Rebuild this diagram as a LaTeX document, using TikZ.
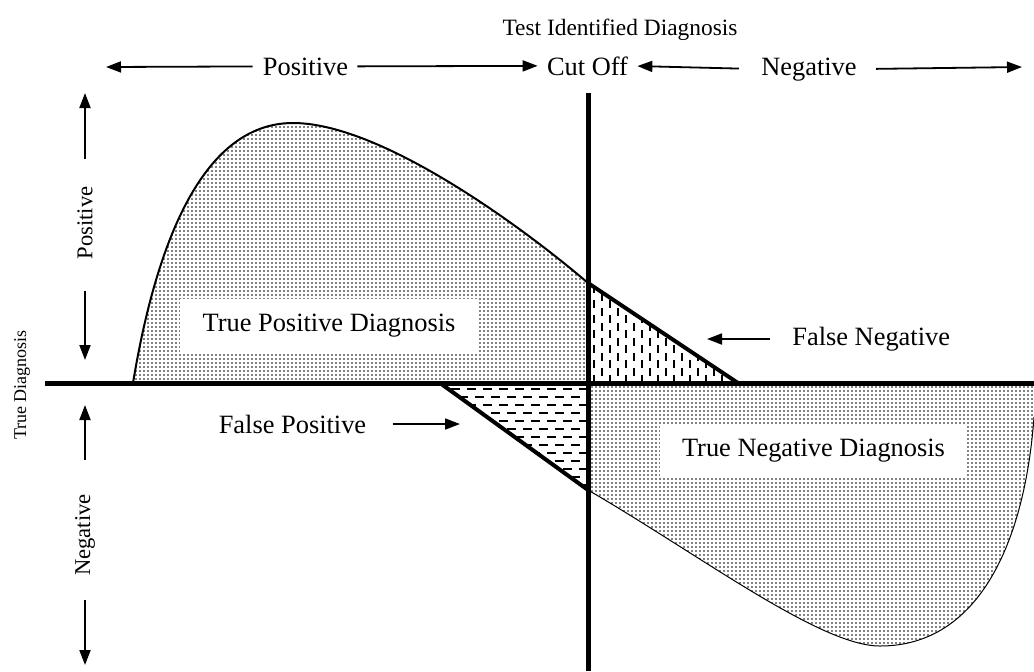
\documentclass[tikz,border=0pt]{standalone}
\usepackage{fontspec}
\setmainfont{Liberation Serif}
\usetikzlibrary{arrows.meta,patterns.meta}

\begin{document}
\begin{tikzpicture}[x=0.5pt, y=-0.5pt, line join=miter,
  every node/.style={font=\fontsize{13.2}{15}\selectfont, inner sep=0pt},
  arr/.style={-{Triangle[length=7.5pt,width=5.5pt]}, line width=0.9pt},
  sidelabel/.style={font=\fontsize{11.3}{13}\selectfont, rotate=90},
  heavy/.style={line width=2.5pt},
  edge/.style={line width=2pt},
  dotfill/.style={pattern={Dots[distance=2pt,radius=0.42pt]}},
  labelbox/.style={fill=white, minimum height=26.5pt}]
  \useasboundingbox (0,0) rectangle (1034,671);

  % shaded areas under the two curves
  \fill[dotfill] (133,383) .. controls (155,250) and (200,123) .. (293,123)
    .. controls (380,123) and (520,225) .. (588,283) -- (588,383) -- cycle;
  \fill[dotfill] (588,383) -- (588,490) .. controls (700,555) and (820,646) .. (880,646)
    .. controls (980,646) and (1025,540) .. (1034,417) -- (1034,383) -- cycle;

  % false negative: vertical dashes
  \begin{scope}
    \clip (588,283) -- (738,383) -- (588,383) -- cycle;
    \foreach \x in {594,610,...,738}
      \draw[line width=1pt, dash pattern=on 4pt off 3.5pt] (\x,383) -- (\x,280);
    \foreach \x in {602,618,...,738}
      \draw[line width=1pt, dash pattern=on 4pt off 3.5pt, dash phase=3.75pt] (\x,383) -- (\x,280);
  \end{scope}
  % false positive: horizontal dashes
  \begin{scope}
    \clip (440,383) -- (588,383) -- (588,490) -- cycle;
    \foreach \y in {389,405,...,490}
      \draw[line width=1pt, dash pattern=on 4.5pt off 3.5pt] (588,\y) -- (430,\y);
    \foreach \y in {397,413,...,490}
      \draw[line width=1pt, dash pattern=on 4.5pt off 3.5pt, dash phase=4pt] (588,\y) -- (430,\y);
  \end{scope}

  \draw[line width=1pt] (133,383) .. controls (155,250) and (200,123) .. (293,123)
    .. controls (380,123) and (520,225) .. (588,283);
  \draw[line width=0.5pt] (588,490) .. controls (700,555) and (820,646) .. (880,646)
    .. controls (980,646) and (1025,540) .. (1034,417);
  \draw[edge] (588,283) -- (738,383);
  \draw[edge] (440,383) -- (588,490);
  \draw[heavy] (45,383) -- (1034,383);
  \draw[heavy] (588,93) -- (588,671);

  \node[labelbox, minimum width=149pt] (tp) at (329,325.5) {True Positive Diagnosis};
  \node[labelbox, minimum width=153.5pt] (tn) at (813.5,451) {True Negative Diagnosis};

  % top scale
  \node[font=\fontsize{11.7}{14}\selectfont, anchor=base] (title) at (620,35) {Test Identified Diagnosis};
  \node[anchor=base] (posTop) at (305.5,75) {Positive};
  \node[anchor=base] (cutoff) at (587.5,75) {Cut Off};
  \node[anchor=base] (negTop) at (809,75) {Negative};
  \coordinate (posEnd) at (106,67);
  \coordinate (negEnd) at (1022,67);
  \draw[arr, shorten <=5pt] (posTop.west) -- (posEnd);
  \draw[arr, shorten <=4.5pt, shorten >=4.5pt] (posTop.east) -- (cutoff.west);
  \draw[arr, shorten <=11pt, shorten >=4.5pt] (negTop.west) -- (cutoff.east);
  \draw[arr, shorten <=9.5pt] (negTop.east) -- (negEnd);

  % side scale
  \node[sidelabel, font=\fontsize{9}{11}\selectfont] (trueDiag) at (22,385) {True Diagnosis};
  \node[sidelabel] (posSide) at (85,223) {Positive};
  \node[sidelabel] (negSide) at (85,535) {Negative};
  \coordinate (posUp) at (85,93);
  \coordinate (posDown) at (85,360);
  \coordinate (negUp) at (85,405);
  \coordinate (negDown) at (85,665);
  \draw[arr, shorten <=13.5pt] (posSide) -- (posUp);
  \draw[arr, shorten <=15.5pt] (posSide) -- (posDown);
  \draw[arr, shorten <=17pt] (negSide) -- (negUp);
  \draw[arr, shorten <=12pt] (negSide) -- (negDown);

  % error labels
  \node[anchor=west] (fnLab) at (792,339) {False Negative};
  \node (fpLab) at (292.5,424) {False Positive};
  \coordinate (fnTip) at (707,339);
  \coordinate (fpTip) at (460,424);
  \draw[arr, shorten <=11pt] (fnLab.west) -- (fnTip);
  \draw[arr, shorten <=13pt] (fpLab.east) -- (fpTip);
\end{tikzpicture}
\end{document}
